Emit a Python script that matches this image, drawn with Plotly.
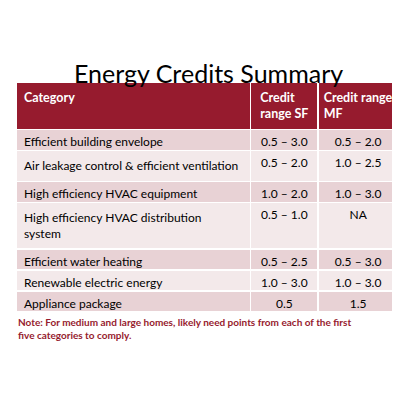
import plotly.graph_objects as go

categories = ["Efficient building envelope",
              "Air leakage control & efficient ventilation",
              "High efficiency HVAC equipment",
              "High efficiency HVAC distribution system",
              "Efficient water heating",
              "Renewable electric energy",
              "Appliance package"]
sf_range = ["0.5 – 3.0", "0.5 – 2.0", "1.0 – 2.0", "0.5 – 1.0", "0.5 – 2.5", "1.0 – 3.0", "0.5"]
mf_range = ["0.5 – 2.0", "1.0 – 2.5", "1.0 – 3.0", "NA", "0.5 – 3.0", "1.0 – 3.0", "1.5"]
headers = ["<b>Category</b>", "<b>Credit<br>range SF</b>", "<b>Credit range<br>MF</b>"]

dark_red = "#961b2e"
row_colors = ["#e8d2d5" if i % 2 == 0 else "#f3e9ea" for i in range(len(categories))]

fig = go.Figure(go.Table(
    domain=dict(x=[0.02, 0.975], y=[0.2, 0.815]),
    columnwidth=[235, 68, 80],
    header=dict(values=headers, fill_color=dark_red, line=dict(color="white", width=1.5),
                font=dict(color="white", size=12.5, family="Lato"),
                align=["left", "center", "center"], height=36),
    cells=dict(values=[categories, sf_range, mf_range],
               fill_color=[row_colors] * 3, line=dict(color="white", width=1.5),
               font=dict(color="black", size=12, family="Lato"),
               align=["left", "center", "center"], height=21),
))

fig.add_annotation(text="Energy Credits Summary", x=0.5, y=0.88, xref="paper", yref="paper",
                   showarrow=False, font=dict(size=25, color="black", family="Lato"))
fig.add_annotation(text="<b>Note: For medium and large homes, likely need points from each of the first<br>five categories to comply.</b>",
                   x=0.02, y=0.235, xref="paper", yref="paper", xanchor="left", yanchor="top",
                   align="left", showarrow=False, font=dict(size=10, color=dark_red, family="Lato"))

fig.update_layout(width=400, height=400, margin=dict(l=0, r=0, t=0, b=0),
                  paper_bgcolor="white")
fig.write_html("out.html")
